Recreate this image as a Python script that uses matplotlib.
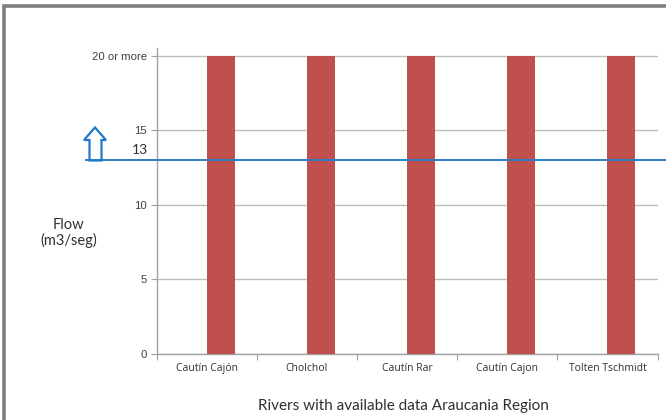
import matplotlib
matplotlib.use("Agg")
import matplotlib.pyplot as plt
from matplotlib.patches import Polygon, Rectangle
import numpy as np

# Data
rivers = ["Cautín Cajón", "Cholchol", "Cautín Rar", "Cautín Cajon", "Tolten Tschmidt"]
flow = [20, 20, 20, 20, 20]          # capped at "20 or more"
threshold = 13
ytick_values = [0, 5, 10, 15, 20]
ytick_labels = ["0", "5", "10", "15", "20 or more"]

W, H = 666, 420
fig = plt.figure(figsize=(W / 100, H / 100), dpi=100)
fig.patch.set_facecolor("white")

ax = fig.add_axes([156.7 / W, 1 - 353.7 / H, (657.5 - 156.7) / W, (353.7 - 48.5) / H])
ax.set_facecolor("white")

x = np.arange(len(rivers))
ax.bar(x + 0.139, flow, width=0.277, color="#C0504D", zorder=3)

ax.set_xlim(-0.5, len(rivers) - 0.5)
ax.set_ylim(0, 20.5)

# y axis
ax.set_yticks(ytick_values)
ax.set_yticklabels(ytick_labels, fontsize=8.2, color="#404040", family="Liberation Sans")
ax.yaxis.grid(True, color="#BDBDBD", linewidth=1.0, zorder=0)
ax.tick_params(axis="y", length=4, width=0.8, color="#A0A0A0", pad=3)

# x axis: labels at category centres, tick marks at category boundaries
ax.set_xticks(x)
ax.set_xticklabels(rivers, fontsize=7.5, color="#303030", family="Open Sans")
ax.set_xticks(np.arange(-0.5, len(rivers)), minor=True)
ax.tick_params(axis="x", which="major", length=0, pad=7)
ax.tick_params(axis="x", which="minor", length=4, width=0.8, color="#A0A0A0")

for side in ("top", "right"):
    ax.spines[side].set_visible(False)
for side in ("left", "bottom"):
    ax.spines[side].set_color("#A0A0A0")
    ax.spines[side].set_linewidth(1.0)

# threshold line across the chart
ax.axhline(threshold, xmin=(86 - 156.7) / (657.5 - 156.7), xmax=(666 - 156.7) / (657.5 - 156.7),
           color="#2E7BC4", linewidth=1.4, clip_on=False, zorder=5)
ax.annotate(str(threshold), xy=(0, threshold), xycoords=("axes fraction", "data"),
            xytext=(-12, 7), textcoords="offset points", ha="center", va="center",
            fontsize=10, color="#303030", family="Lato")

# upward outline arrow beside the threshold
def px(pts):
    return [(a / W, 1 - b / H) for a, b in pts]

arrow = Polygon(px([(95, 127.5), (106, 140), (101.5, 140), (101.5, 160.5),
                    (89.5, 160.5), (89.5, 140), (84, 140)]),
                closed=True, fill=False, edgecolor="#1F78C8", linewidth=1.6,
                transform=fig.transFigure)
fig.patches.append(arrow)

# axis titles
fig.text(68.5 / W, 1 - 233 / H, "Flow\n(m3/seg)", ha="center", va="center",
         fontsize=10.5, color="#303030", family="Lato", linespacing=1.15)
fig.text(403 / W, 1 - 406 / H, "Rivers with available data Araucania Region",
         ha="center", va="center", fontsize=11, color="#303030", family="Lato")

# frame around the slide area
fig.patches.append(Rectangle((4 / W, -0.05), 1.1, 1 - 6.5 / H + 0.05, fill=False,
                             edgecolor="#7F7F7F", linewidth=2.6,
                             transform=fig.transFigure))

fig.savefig("out.png", dpi=100, facecolor="white")
